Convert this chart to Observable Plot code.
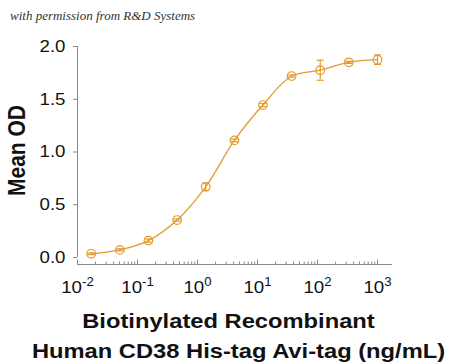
<!DOCTYPE html>
<html><head><meta charset="utf-8">
<script src="https://cdn.jsdelivr.net/npm/d3@7"></script>
<script src="https://cdn.jsdelivr.net/npm/@observablehq/plot@0.6"></script>
<style>
html,body{margin:0;padding:0;background:#fff;}
#chart svg{display:block;}
</style></head><body><div id="chart"></div>
<script>
// ---- data ----
const concentrations = [0.0169, 0.0508, 0.152, 0.457, 1.37, 4.12, 12.3, 37.0, 111, 333, 1000];
const meanOD = [0.035, 0.072, 0.16, 0.355, 0.67, 1.11, 1.445, 1.72, 1.775, 1.85, 1.875];
const errorOD = [0.008, 0.01, 0.015, 0.01, 0.035, 0.012, 0.015, 0.01, 0.095, 0.01, 0.045];
const yTicks = [0, 0.5, 1.0, 1.5, 2.0];
const xTicks = [0.01, 0.1, 1, 10, 100, 1000];
const xTickExponents = ["-2", "-1", "0", "1", "2", "3"];
const caption = "with permission from R&D Systems";
const yTitle = "Mean OD";
const xTitleLines = ["Biotinylated Recombinant", "Human CD38 His-tag Avi-tag (ng/mL)"];

const data = concentrations.map((c, i) => ({conc: c, od: meanOD[i], err: errorOD[i]}));
const minorTicks = d3.scaleLog().domain([0.01, 1000]).ticks().filter(t => !xTicks.some(m => Math.abs(m - t) / m < 1e-9));

const orange = "#E39B2E";
const axisGrey = "#8a8a8a";
const capSymbol = {draw(ctx, size) { const w = Math.sqrt(size / Math.PI); ctx.moveTo(-w, 0); ctx.lineTo(w, 0); }};

const W = 450, H = 364, mL = 77, mR = 59, mT = 46, mB = 100;
const frameH = H - mT - mB;

const svg = Plot.plot({
  width: W, height: H,
  marginLeft: mL, marginRight: mR, marginTop: mT, marginBottom: mB,
  style: {fontFamily: "'Liberation Sans', Arial, sans-serif", fontSize: "17px", background: "#fff", color: "#111"},
  x: {type: "log", domain: [0.01, Math.pow(10, 3.233)], label: null},
  y: {domain: [0, 2], range: [257, 46], label: null},
  marks: [
    Plot.frame({anchor: "bottom", stroke: axisGrey}),
    Plot.ruleX([0.01], {y1: 0, y2: 2, stroke: axisGrey}),
    Plot.tickX(xTicks, {x: d => d, stroke: axisGrey, insetTop: frameH - 4.5}),
    Plot.tickX(minorTicks, {x: d => d, stroke: axisGrey, insetTop: frameH - 2.5}),
    Plot.axisY(yTicks, {tickSize: 4, tickPadding: 8, tickFormat: d3.format(".1f"), stroke: axisGrey, label: null}),
    Plot.axisX(xTicks, {tickSize: 0, tickPadding: 16, tickFormat: d => "10" + xTickExponents[xTicks.indexOf(d)], label: null}),
    Plot.line(data, {x: "conc", y: "od", stroke: orange, strokeWidth: 1.3, curve: "catmull-rom"}),
    Plot.ruleX(data, {x: "conc", y1: d => d.od - d.err, y2: d => d.od + d.err, stroke: orange, strokeWidth: 1.2}),
    Plot.dot(data, {x: "conc", y: d => d.od + d.err, symbol: capSymbol, r: 3.5, stroke: orange, strokeWidth: 1.2}),
    Plot.dot(data, {x: "conc", y: d => d.od - d.err, symbol: capSymbol, r: 3.5, stroke: orange, strokeWidth: 1.2}),
    Plot.dot(data, {x: "conc", y: "od", r: 4.3, stroke: orange, strokeWidth: 1.2, fill: "none"})
  ]
});

// horizontal stretch of text as in the reference
const sx = 1.1;
function stretch(t, s) {
  const tr = t.getAttribute("transform");
  if (tr) t.setAttribute("transform", tr + ` scale(${s},1)`);
  else {
    const x = t.getAttribute("x") || 0, y = t.getAttribute("y") || 0;
    t.removeAttribute("x"); t.removeAttribute("y");
    t.setAttribute("transform", `translate(${x},${y}) scale(${s},1)`);
  }
}
svg.querySelectorAll('g[aria-label="y-axis tick label"] text').forEach(t => { t.setAttribute("fill", "#111"); stretch(t, sx); });
svg.querySelectorAll('g[aria-label="x-axis tick label"] text').forEach(t => {
  const s = t.textContent; const exp = s.slice(2);
  t.textContent = "";
  const a = document.createElementNS("http://www.w3.org/2000/svg", "tspan"); a.textContent = "10";
  const b = document.createElementNS("http://www.w3.org/2000/svg", "tspan"); b.textContent = exp;
  b.setAttribute("font-size", "12px"); b.setAttribute("dy", "-7");
  t.appendChild(a); t.appendChild(b);
  t.setAttribute("fill", "#111");
  stretch(t, sx);
});

const root = d3.select(svg);
root.append("text").attr("x", 10).attr("y", 20).attr("text-anchor", "start")
  .attr("font-family", "'Liberation Serif', 'DejaVu Serif', serif").attr("font-style", "italic")
  .attr("font-size", "13px").attr("fill", "#333").text(caption);
root.append("text").attr("transform", "translate(25,150.5) scale(1.15,1) rotate(-90)")
  .attr("text-anchor", "middle").attr("font-weight", "bold").attr("font-size", "21px").attr("fill", "#111").text(yTitle);
root.append("text").attr("transform", "translate(228.5,328.3) scale(1.13,1)")
  .attr("text-anchor", "middle").attr("font-weight", "bold").attr("font-size", "21px").attr("fill", "#111").text(xTitleLines[0]);
root.append("text").attr("transform", "translate(238.5,358.3) scale(1.13,1)")
  .attr("text-anchor", "middle").attr("font-weight", "bold").attr("font-size", "21px").attr("fill", "#111").text(xTitleLines[1]);

document.getElementById("chart").appendChild(svg);
</script></body></html>
